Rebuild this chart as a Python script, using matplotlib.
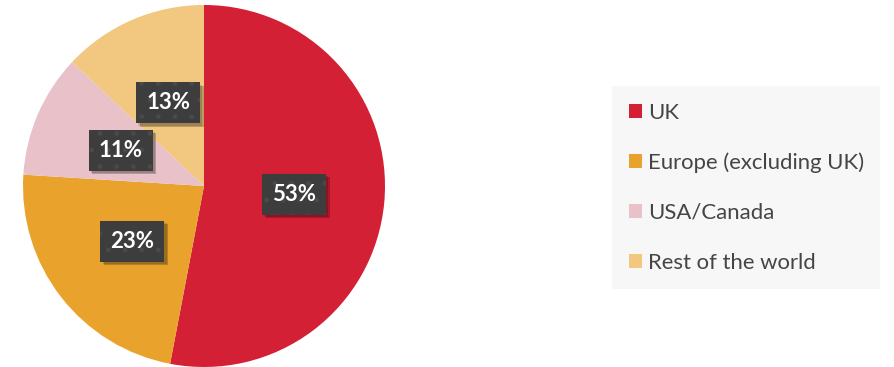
import matplotlib
matplotlib.use("Agg")
import matplotlib.pyplot as plt
from matplotlib import patheffects as pe
import numpy as np

categories = ["UK", "Europe (excluding UK)", "USA/Canada", "Rest of the world"]
values = [53, 23, 11, 13]
labels = ["53%", "23%", "11%", "13%"]
colors = ["#D42035", "#E9A32D", "#E9C1C8", "#F2C780"]

W, H = 894, 367
fig = plt.figure(figsize=(W / 100, H / 100), dpi=100)
fig.patch.set_facecolor("white")

cx, cy, R = 204, 186, 181
ax = fig.add_axes([(cx - R) / W, (H - cy - R) / H, 2 * R / W, 2 * R / H])
wedges, _ = ax.pie(values, colors=colors, startangle=90, counterclock=False,
                   radius=1, wedgeprops=dict(linewidth=0))
ax.set_xlim(-1, 1)
ax.set_ylim(-1, 1)
ax.set_aspect("equal")
ax.axis("off")

for w, lab in zip(wedges, labels):
    mid = np.deg2rad((w.theta1 + w.theta2) / 2)
    x, y = 0.5 * np.cos(mid), 0.5 * np.sin(mid)
    common = dict(ha="center", va="center", fontsize=16, fontweight="bold",
                  family="Lato")
    # shadow layer
    s = ax.text(x, y, lab, color=(1, 1, 1, 0), zorder=4,
                bbox=dict(boxstyle="square,pad=0.45", facecolor=(0, 0, 0, 0),
                          edgecolor="none", linewidth=0), **common)
    s.get_bbox_patch().set_path_effects([
        pe.SimplePatchShadow(offset=(2.5, -2.5), shadow_rgbFace="black", alpha=0.22),
        pe.SimplePatchShadow(offset=(1.5, -1.5), shadow_rgbFace="black", alpha=0.15)])
    # main label
    ax.text(x, y, lab, color="white", zorder=5,
            bbox=dict(boxstyle="square,pad=0.45", facecolor="#3D3D3D",
                      edgecolor="#4A4A4A", linewidth=0, hatch="."), **common)

handles = [plt.Rectangle((0, 0), 1, 1, facecolor=c, edgecolor="none") for c in colors]
leg = fig.legend(handles, categories, loc="upper left",
                 bbox_to_anchor=(612 / W, 1 - 86 / H),
                 prop=dict(family="Lato", size=15.9),
                 frameon=True, fancybox=False, facecolor="#F7F7F7",
                 edgecolor="none", framealpha=1,
                 handlelength=0.6, handleheight=0.6, handletextpad=0.27,
                 labelspacing=1.35, borderpad=0.75, borderaxespad=0)
for txt in leg.get_texts():
    txt.set_color("#454545")

fig.savefig("out.png", dpi=100, facecolor="white")
